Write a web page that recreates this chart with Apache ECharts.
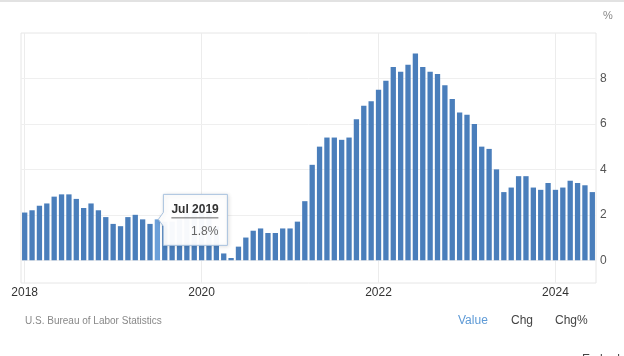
<!DOCTYPE html>
<html>
<head>
<meta charset="utf-8">
<script src="https://cdn.jsdelivr.net/npm/echarts@6/dist/echarts.min.js"></script>
<style>
html,body{margin:0;padding:0;background:#fff;overflow:hidden}
#c{width:624px;height:356px}
</style>
</head>
<body>
<div id="c"></div>
<script>
// ---- data ----
const years = [2018, 2019, 2020, 2021, 2022, 2023, 2024];
const monthNames = ['Jan','Feb','Mar','Apr','May','Jun','Jul','Aug','Sep','Oct','Nov','Dec'];
const cpi2018 = [2.1, 2.2, 2.4, 2.5, 2.8, 2.9, 2.9, 2.7, 2.3, 2.5, 2.2, 1.9];
const cpi2019 = [1.6, 1.5, 1.9, 2.0, 1.8, 1.6, 1.8, 1.7, 1.7, 1.8, 2.1, 2.3];
const cpi2020 = [2.5, 2.3, 1.5, 0.3, 0.1, 0.6, 1.0, 1.3, 1.4, 1.2, 1.2, 1.4];
const cpi2021 = [1.4, 1.7, 2.6, 4.2, 5.0, 5.4, 5.4, 5.3, 5.4, 6.2, 6.8, 7.0];
const cpi2022 = [7.5, 7.9, 8.5, 8.3, 8.6, 9.1, 8.5, 8.3, 8.2, 7.7, 7.1, 6.5];
const cpi2023 = [6.4, 6.0, 5.0, 4.9, 4.0, 3.0, 3.2, 3.7, 3.7, 3.2, 3.1, 3.4];
const cpi2024 = [3.1, 3.2, 3.5, 3.4, 3.3, 3.0];
const yTickLabels = [0, 2, 4, 6, 8];
const xLabelYears = ['2018', '2020', '2022', '2024'];
const tooltipMonth = '2019-07';
const unitText = '%';
const sourceText = 'U.S. Bureau of Labor Statistics';
const viewTabs = ['Value', 'Chg', 'Chg%'];
const embedText = 'Embed';

const yearly = [cpi2018, cpi2019, cpi2020, cpi2021, cpi2022, cpi2023, cpi2024];
const categories = [];
const values = [];
const monthLabel = {};
yearly.forEach((arr, yi) => {
  arr.forEach((v, mi) => {
    const key = years[yi] + '-' + String(mi + 1).padStart(2, '0');
    categories.push(key);
    values.push(v);
    monthLabel[key] = monthNames[mi] + ' ' + years[yi];
  });
});

const FONT = '"Liberation Sans", Arial, sans-serif';
const BAR = '#4a7ebb';
const BAR_HI = '#6b9fd9';
const isYearLabel = (v) => v.slice(5) === '01' && xLabelYears.indexOf(v.slice(0, 4)) >= 0;

const chart = echarts.init(document.getElementById('c'), null, { renderer: 'canvas' });

const option = {
  animation: false,
  backgroundColor: '#fff',
  grid: {
    left: 21, right: 28, top: 33, bottom: 73,
    show: true, borderColor: '#e6e6e6', borderWidth: 1, backgroundColor: 'transparent'
  },
  xAxis: {
    type: 'category',
    data: categories,
    boundaryGap: true,
    axisLine: { show: false },
    axisTick: { show: false },
    axisLabel: {
      interval: (i, v) => isYearLabel(v),
      formatter: (v) => v.slice(0, 4),
      margin: 4,
      fontSize: 12,
      color: '#333',
      fontFamily: FONT
    },
    splitLine: {
      show: true,
      interval: (i, v) => isYearLabel(v),
      alignWithLabel: true,
      lineStyle: { color: '#ececec', width: 1 }
    }
  },
  yAxis: {
    type: 'value',
    position: 'right',
    min: -1,
    max: 10,
    interval: 1,
    axisLine: { show: false },
    axisTick: { show: false },
    splitLine: { show: false },
    axisLabel: {
      margin: 4,
      fontSize: 12,
      color: '#555',
      fontFamily: FONT,
      formatter: (v) => (yTickLabels.indexOf(v) >= 0 ? String(v) : '')
    }
  },
  series: [{
    type: 'bar',
    barCategoryGap: '28%',
    data: values.map((v, i) => categories[i] === tooltipMonth
      ? { value: v, itemStyle: { color: BAR_HI } } : v),
    itemStyle: { color: BAR },
    silent: true,
    markLine: {
      silent: true,
      z: 1,
      symbol: 'none',
      label: { show: false },
      lineStyle: { color: '#efefef', type: 'solid', width: 1 },
      data: yTickLabels.map((v) => ({ yAxis: v }))
    }
  }]
};
chart.setOption(option);

// tooltip-like callout anchored to the highlighted bar through the chart scales
const tipIdx = categories.indexOf(tooltipMonth);
const p = chart.convertToPixel({ xAxisIndex: 0, yAxisIndex: 0 }, [tooltipMonth, values[tipIdx]]);
const TZ = 100;

chart.setOption({
  graphic: [
    { id: 'topband', type: 'rect', left: 0, top: 0, shape: { width: 624, height: 2 }, style: { fill: '#e2e2e2' }, silent: true },
    { id: 'unit', type: 'text', left: 603, top: 10, style: { text: unitText, fontSize: 11, fill: '#888', fontFamily: FONT } },
    { id: 'src', type: 'text', left: 25, top: 316, style: { text: sourceText, fontSize: 10, fill: '#888', fontFamily: FONT } },
    { id: 'tab0', type: 'text', left: 458, top: 315, style: { text: viewTabs[0], fontSize: 12, fill: '#5e9ad6', fontFamily: FONT } },
    { id: 'tab1', type: 'text', left: 511, top: 315, style: { text: viewTabs[1], fontSize: 12, fill: '#444', fontFamily: FONT } },
    { id: 'tab2', type: 'text', left: 555, top: 315, style: { text: viewTabs[2], fontSize: 12, fill: '#444', fontFamily: FONT } },
    { id: 'embed', type: 'text', left: 582, top: 354, style: { text: embedText, fontSize: 12, fill: '#444', fontFamily: FONT } },
    {
      id: 'tip',
      type: 'group',
      x: p[0] + 1,
      y: p[1],
      z: TZ,
      children: [
        {
          type: 'polygon', z: TZ,
          shape: { points: [[5, -25], [69, -25], [69, 26], [5, 26], [5, 7], [0, 0], [5, -7]] },
          style: { fill: 'rgba(255,255,255,0.96)', stroke: '#a8c2df', lineWidth: 1,
                   shadowBlur: 4, shadowColor: 'rgba(0,0,0,0.12)', shadowOffsetX: 1, shadowOffsetY: 1 }
        },
        {
          type: 'text', x: 13, y: -10, z: TZ + 1,
          style: { text: monthLabel[tooltipMonth], fontSize: 12, fontWeight: 'bold', fill: '#333',
                   fontFamily: FONT, verticalAlign: 'middle', align: 'left' }
        },
        {
          type: 'line', z: TZ + 1, shape: { x1: 13, y1: -1.5, x2: 60, y2: -1.5 },
          style: { stroke: '#666', lineWidth: 1 }
        },
        {
          type: 'text', x: 60, y: 12, z: TZ + 1,
          style: { text: values[tipIdx].toFixed(1) + '%', fontSize: 12, fill: '#666',
                   fontFamily: FONT, verticalAlign: 'middle', align: 'right' }
        }
      ]
    }
  ]
});
</script>
</body>
</html>
